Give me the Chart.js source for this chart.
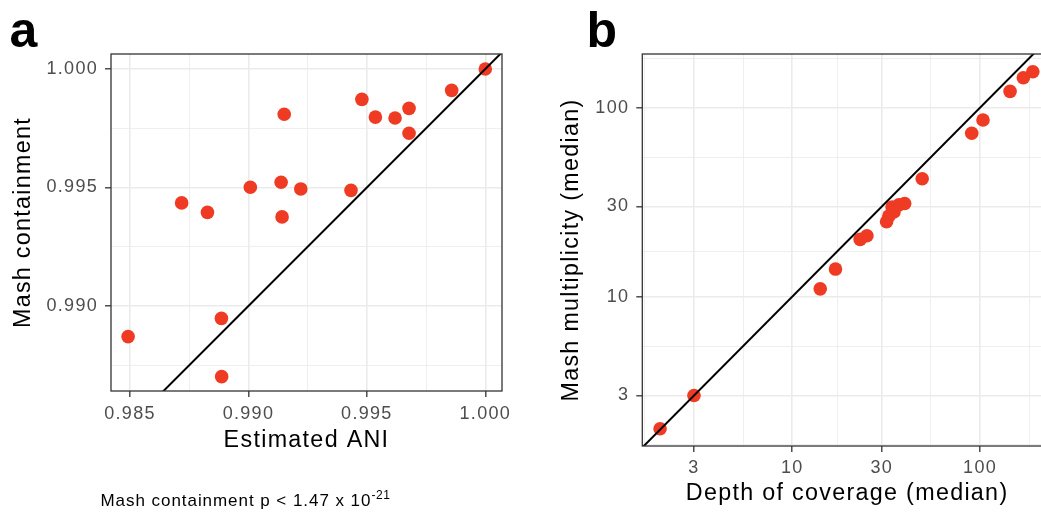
<!DOCTYPE html>
<html><head><meta charset="utf-8">
<script src="https://cdn.jsdelivr.net/npm/chart.js@4.4.1/dist/chart.umd.min.js"></script>
<style>
html,body{margin:0;padding:0;background:#fff;}
body{width:1041px;height:514px;overflow:hidden;position:relative;font-family:"Liberation Sans",Arial,sans-serif;}
.wrap{position:absolute;top:0;height:514px;}
.tag{position:absolute;font-weight:bold;font-size:50px;line-height:50px;color:#000;}
#cap{position:absolute;left:100.5px;top:492.3px;font-size:17px;line-height:17px;letter-spacing:0.95px;white-space:nowrap;color:#000;}
#cap sup{font-size:12px;vertical-align:baseline;position:relative;top:-7px;letter-spacing:0.6px;}
</style></head><body>
<div class="wrap" style="left:0;width:520px;"><canvas id="ca"></canvas></div>
<div class="wrap" style="left:520px;width:540px;"><canvas id="cb"></canvas></div>
<div class="tag" style="left:9.5px;top:4.5px;">a</div>
<div class="tag" style="left:586.5px;top:4.5px;">b</div>
<div id="cap">Mash containment p &lt; 1.47 x 10<sup>-21</sup></div>
<script>
// ---- Panel a data ----
const aniEstimated = [1.0000, 0.99858, 0.99479, 0.99536, 0.99619, 0.99678, 0.99678, 0.99151, 0.99138, 0.99221, 0.99008, 0.99433, 0.98718, 0.98827, 0.99142, 0.98886, 0.98492, 0.98887];
const mashContainment = [1.0000, 0.99910, 0.99872, 0.99797, 0.99793, 0.99834, 0.99729, 0.99809, 0.99522, 0.99494, 0.99501, 0.99488, 0.99435, 0.99395, 0.99376, 0.98948, 0.98871, 0.98702];
const aniMajorTicks = [0.985, 0.990, 0.995, 1.000];
const aniMinorTicks = [0.9875, 0.9925, 0.9975];
const containMajorTicks = [0.990, 0.995, 1.000];
const containMinorTicks = [0.9875, 0.9925, 0.9975];
const identityLineA = [0.98, 1.01];

// ---- Panel b data ----
const depthCoverage = [191, 170, 144.5, 103.7, 90.3, 49.2, 39.7, 37.0, 34.0, 34.8, 32.7, 31.8, 25.0, 23.0, 17.0, 14.1, 3.0, 1.98];
const mashMultiplicity = [155, 144, 122, 86.1, 73.2, 42.1, 31.1, 30.6, 29.8, 28.1, 26.7, 24.9, 21.0, 20.1, 14.0, 11.0, 3.0, 2.0];
const logMajorTicks = [3, 10, 30, 100];
const depthMinorTicks = [1.643, 5.477, 17.32, 54.77, 182.6];
const multMinorTicks = [1.643, 5.477, 17.32, 54.77, 182.6];
const identityLineB = [1, 300];

const FONT = '"Liberation Sans", Arial, sans-serif';
const RED = '#EF3B24';

const spacing = {
  id: 'spacing',
  beforeLayout(chart) { chart.ctx.letterSpacing = '1.3px'; },
  beforeDraw(chart) { chart.ctx.letterSpacing = '1.3px'; }
};
const panelBorder = {
  id: 'panelBorder',
  afterDatasetsDraw(chart) {
    const {ctx, chartArea: a} = chart;
    ctx.save();
    ctx.strokeStyle = '#333333';
    ctx.lineWidth = 1.3;
    ctx.strokeRect(a.left, a.top, a.right - a.left, a.bottom - a.top);
    ctx.restore();
  }
};

function axis(o) {
  const isMajor = v => o.major.some(m => Math.abs(m - v) < 1e-9);
  return {
    type: o.type, min: o.min, max: o.max,
    afterBuildTicks: s => {
      s.ticks = [...o.major, ...o.minor].filter(v => v >= o.min && v <= o.max)
        .sort((p, q) => p - q).map(v => ({value: v}));
    },
    afterFit: s => { if (o.horizontal) s.height = o.fit; else s.width = o.fit; },
    ticks: {
      autoSkip: false, maxRotation: 0, minRotation: 0, padding: o.tickPad,
      color: '#4D4D4D', font: {family: FONT, size: 18},
      callback: v => isMajor(v) ? o.fmt(v) : ''
    },
    grid: {
      color: '#EBEBEB',
      lineWidth: c => (c.tick && isMajor(c.tick.value)) ? 1.6 : 0.8,
      drawTicks: true, tickLength: 6, tickWidth: 1.3,
      tickColor: c => (c.tick && isMajor(c.tick.value)) ? '#333333' : 'rgba(0,0,0,0)'
    },
    border: {display: false},
    title: {display: true, text: o.title, color: '#000',
      font: {family: FONT, size: 23.3, lineHeight: 1.2}, padding: o.titlePad}
  };
}

function baseOptions(padRight, scales) {
  return {
    responsive: true, maintainAspectRatio: false, animation: false, devicePixelRatio: 1,
    events: [],
    layout: {padding: {top: 54, right: padRight, left: 0, bottom: 0}},
    plugins: {legend: {display: false}, tooltip: {enabled: false}, title: {display: false}},
    scales
  };
}

new Chart(document.getElementById('ca'), {
  type: 'scatter',
  data: {datasets: [
    {type: 'line', showLine: true, data: identityLineA.map(v => ({x: v, y: v})),
     borderColor: '#000', borderWidth: 2, pointRadius: 0, order: 0},
    {data: aniEstimated.map((x, i) => ({x, y: mashContainment[i]})),
     backgroundColor: RED, pointRadius: 6.8, pointHoverRadius: 6.8, borderWidth: 0, order: 1}
  ]},
  options: baseOptions(18, {
    x: axis({type: 'linear', min: 0.984198, max: 1.000705, major: aniMajorTicks, minor: aniMinorTicks,
      fmt: v => v.toFixed(3), title: 'Estimated ANI', titlePad: {top: 0, bottom: 59.8},
      horizontal: true, fit: 123, tickPad: 6.5}),
    y: axis({type: 'linear', min: 0.986414, max: 1.000633, major: containMajorTicks, minor: containMinorTicks,
      fmt: v => v.toFixed(3), title: 'Mash containment', titlePad: {top: 10, bottom: 0},
      horizontal: false, fit: 111, tickPad: 7})
  }),
  plugins: [spacing, panelBorder]
});

new Chart(document.getElementById('cb'), {
  type: 'scatter',
  data: {datasets: [
    {type: 'line', showLine: true, data: identityLineB.map(v => ({x: v, y: v})),
     borderColor: '#000', borderWidth: 2, pointRadius: 0, order: 0},
    {data: depthCoverage.map((x, i) => ({x, y: mashMultiplicity[i]})),
     backgroundColor: RED, pointRadius: 6.8, pointHoverRadius: 6.8, borderWidth: 0, order: 1}
  ]},
  options: baseOptions(8, {
    x: axis({type: 'logarithmic', min: 1.592, max: 241.6, major: logMajorTicks, minor: depthMinorTicks,
      fmt: v => String(v), title: 'Depth of coverage (median)', titlePad: {top: 0, bottom: 6},
      horizontal: true, fit: 68, tickPad: 5.5}),
    y: axis({type: 'logarithmic', min: 1.622, max: 192.3, major: logMajorTicks, minor: multMinorTicks,
      fmt: v => String(v), title: 'Mash multiplicity (median)', titlePad: {top: 38, bottom: 0},
      horizontal: false, fit: 122.3, tickPad: 7})
  }),
  plugins: [spacing, panelBorder]
});
</script>
</body></html>
